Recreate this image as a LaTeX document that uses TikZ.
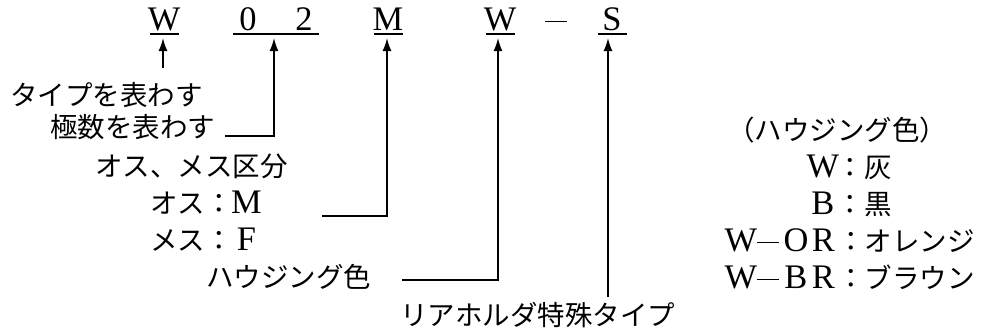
\documentclass[tikz,border=0pt]{standalone}
\usepackage{fontspec}
\setmainfont{Noto Sans CJK JP}
\newfontfamily\lat[Scale=1.35]{Liberation Serif}
\usetikzlibrary{arrows.meta}
\newcommand{\fwl}[1]{\makebox[27.5pt][c]{\lat\fontsize{25.5}{26}\selectfont #1}}
\newcommand{\fwdash}{\makebox[27.5pt][c]{\rule[8pt]{22pt}{1.4pt}}}
\tikzset{
  lbl/.style={font=\fontsize{27.5}{30}\selectfont, inner sep=0pt, anchor=west, text height=24.2pt, text depth=3.3pt},
  code/.style={font=\fontsize{27.5}{30}\selectfont, inner sep=0pt, anchor=center, text height=24.2pt, text depth=3.3pt},
  uline/.style={line width=1.8pt},
  conn/.style={line width=1.6pt, -{Latex[length=13pt,width=9pt]}},
}
\begin{document}
\begin{tikzpicture}[x=1pt,y=-1pt]
\useasboundingbox (0,0) rectangle (989,330);
% top code row
\node[code] (cw1) at (164,20) {\fwl{W}};
\node[code] (c0) at (248,20) {\fwl{0}};
\node[code] (c2) at (304,20) {\fwl{2}};
\node[code] (cm) at (388,20) {\fwl{M}};
\node[code] (cw2) at (500,20) {\fwl{W}};
\node[code] (cd) at (556,20) {\fwdash};
\node[code] (cs) at (612,20) {\fwl{S}};
% underlines
\draw[uline] (150,34) -- (179,34);
\draw[uline] (233,34) -- (319,34);
\draw[uline] (374,34) -- (403,34);
\draw[uline] (486,34) -- (515,34);
\draw[uline] (598,34) -- (627,34);
% arrow targets
\coordinate (aw1) at (163,38);
\coordinate (a02) at (274,38);
\coordinate (am) at (387,38);
\coordinate (aw2) at (498,38);
\coordinate (as) at (608,38);
% left labels
\node[lbl] (t1) at (10,95) {タイプを表わす};
\node[lbl] (t2) at (50,127) {極数を表わす};
\node[lbl] (t3) at (95,166) {オス、メス区分};
\node[lbl] (t4) at (150,203) {オス：\fwl{M}};
\node[lbl] (t5) at (150,240) {メス：\fwl{F}};
\node[lbl] (t6) at (206,277) {ハウジング色};
\node[lbl] (t7) at (400,315) {リアホルダ特殊タイプ};
% right block
\node[lbl] (r0) at (727,130) {（ハウジング色）};
\node[lbl] (r1) at (809,167) {\fwl{W}：灰};
\node[lbl] (r2) at (809,204) {\fwl{B}：黒};
\node[lbl] (r3) at (727,241) {\fwl{W}\fwdash\fwl{O}\fwl{R}：オレンジ};
\node[lbl] (r4) at (727,278) {\fwl{W}\fwdash\fwl{B}\fwl{R}：ブラウン};
% connector start points
\coordinate (s1) at (163,68);
\coordinate (s2) at (225,136);
\coordinate (s3) at (322,216);
\coordinate (s4) at (402,280);
\coordinate (s5) at (608,297);
% connectors
\draw[conn] (s1) -- (aw1);
\draw[conn] (s2) -| (a02);
\draw[conn] (s3) -| (am);
\draw[conn] (s4) -| (aw2);
\draw[conn] (s5) -- (as);
\end{tikzpicture}
\end{document}
